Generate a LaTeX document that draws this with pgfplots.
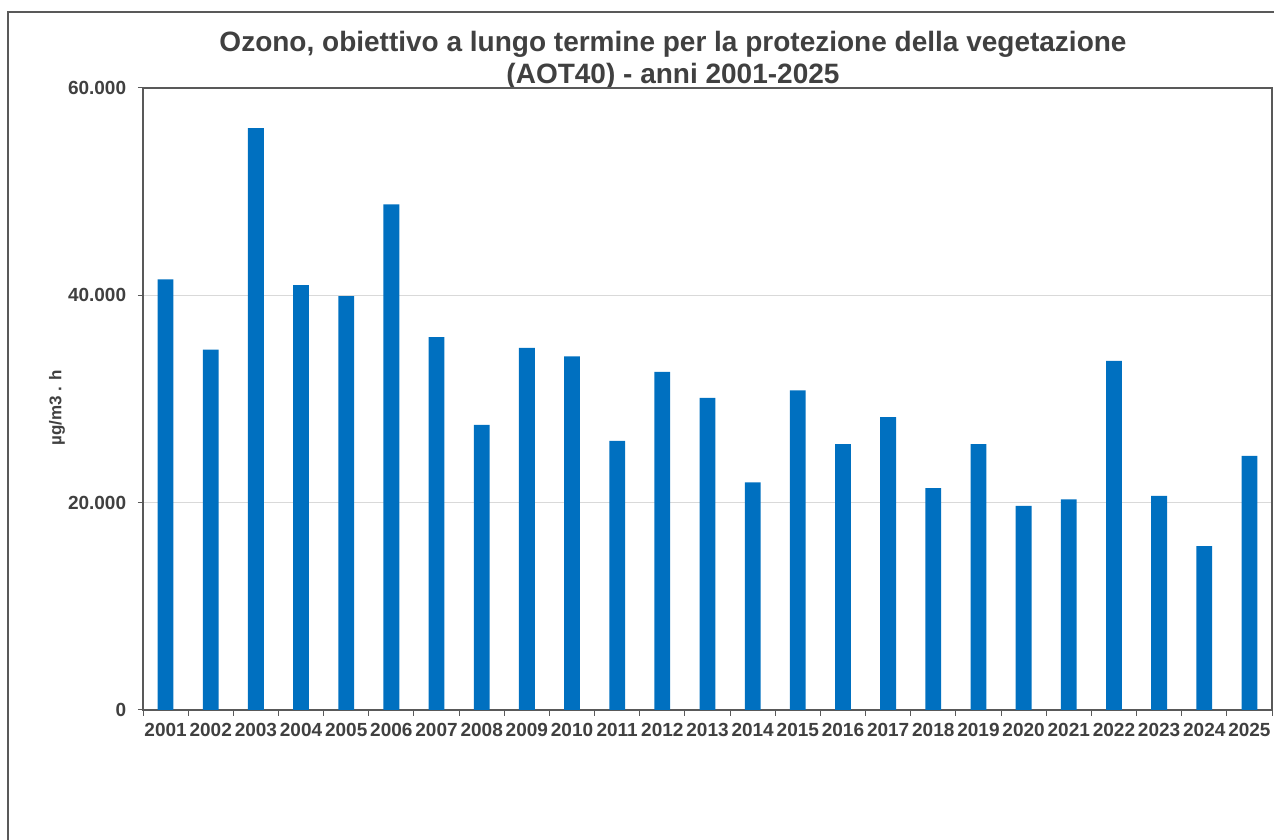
\documentclass[border=0pt]{standalone}
\usepackage{fontspec}
\setmainfont{Liberation Sans}
\usepackage{pgfplots}
\pgfplotsset{compat=1.18}
\definecolor{barblue}{HTML}{0070C0}
\definecolor{txt}{HTML}{404040}
\definecolor{axgray}{HTML}{595959}
\definecolor{gridgray}{HTML}{D9D9D9}
\begin{document}
\begin{tikzpicture}
\path[use as bounding box] (0pt,0pt) rectangle (637pt,420pt);
\draw[axgray, line width=0.6pt] (4pt,-2pt) -- (4pt,414pt) -- (640pt,414pt);
\node[anchor=base, font=\bfseries\fontsize{14}{16}\selectfont, text=txt, inner sep=0] at (336.5pt,394pt) {Ozono, obiettivo a lungo termine per la protezione della vegetazione};
\node[anchor=base, font=\bfseries\fontsize{14}{16}\selectfont, text=txt, inner sep=0] at (336.5pt,378pt) {(AOT40) - anni 2001-2025};
\begin{axis}[
  at={(71.5pt,65pt)}, anchor=south west,
  scale only axis, width=564.5pt, height=311pt,
  ymin=0, ymax=60000, ytick={0,20000,40000,60000},
  xmin=-0.5, xmax=24.5,
  xtick={0,...,24},
  xticklabels={2001,2002,2003,2004,2005,2006,2007,2008,2009,2010,2011,2012,2013,2014,2015,2016,2017,2018,2019,2020,2021,2022,2023,2024,2025},
  minor xtick={-0.5,0.5,...,24.5},
  ymajorgrids, grid style={gridgray, line width=0.5pt},
  axis line style={axgray, line width=0.6pt},
  tick align=outside, tick pos=left,
  major tick length=2.5pt, minor tick length=3pt,
  tick style={axgray, line width=0.5pt},
  major x tick style={draw=none},
  ybar, bar width=0.35,
  scaled y ticks=false,
  /pgf/number format/1000 sep={.},
  /pgf/number format/fixed,
  /pgf/number format/assume math mode=true,
  tick label style={font=\bfseries\fontsize{9.5}{11}\selectfont, text=txt},
  yticklabel style={xshift=-2.4pt},
  xticklabel style={yshift=-0.5pt},
  ylabel={µg/m3 . h},
  every axis y label/.style={at={(axis description cs:-0.0762,0.486)}, rotate=90, anchor=center, font=\bfseries\fontsize{8.5}{10}\selectfont, text=txt},
]
\addplot[fill=barblue, draw=none] coordinates {
(0,41540) (1,34770) (2,56130) (3,40990) (4,39930) (5,48770) (6,35980) (7,27500) (8,34920) (9,34120)
(10,25960) (11,32610) (12,30100) (13,21950) (14,30840) (15,25640) (16,28240) (17,21400) (18,25640) (19,19690)
(20,20310) (21,33670) (22,20660) (23,15810) (24,24510)
};
\end{axis}
\end{tikzpicture}
\end{document}
